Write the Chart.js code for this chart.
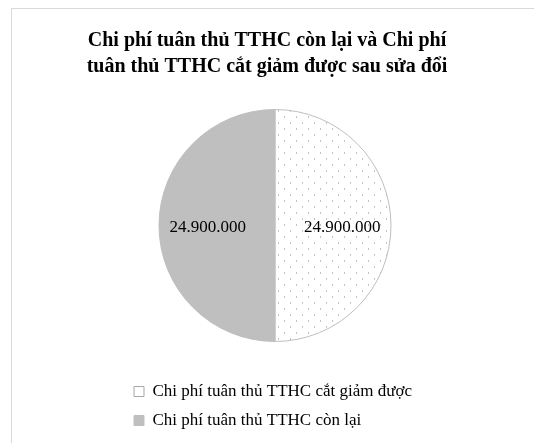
<!DOCTYPE html>
<html>
<head>
<meta charset="utf-8">
<script src="https://cdn.jsdelivr.net/npm/chart.js@4/dist/chart.umd.min.js"></script>
<style>
	html, body { margin: 0; padding: 0; background: #fff; }
</style>
</head>
<body>
<canvas id="costChart" width="534" height="443"></canvas>
<script>
// dữ liệu biểu đồ
const categories = ['Chi phí tuân thủ TTHC cắt giảm được', 'Chi phí tuân thủ TTHC còn lại'];
const values = [24900000, 24900000];
const titleLines = ['Chi phí tuân thủ TTHC còn lại và Chi phí', 'tuân thủ TTHC cắt giảm được sau sửa đổi'];

const SERIF = '"Liberation Serif", "Times New Roman", serif';

// số kiểu Việt Nam: 24.900.000
function fmt(v) {
	return String(v).replace(/\B(?=(\d{3})+(?!\d))/g, '.');
}

// nền chấm cho phần "cắt giảm được"
function dotPattern(ctx) {
	const c = document.createElement('canvas');
	c.width = 12; c.height = 12;
	const g = c.getContext('2d');
	g.fillStyle = '#fff';
	g.fillRect(0, 0, 12, 12);
	g.fillStyle = '#c4c4c4';
	g.fillRect(2, 2, 1, 2);
	g.fillRect(8, 8, 1, 2);
	return ctx.createPattern(c, 'repeat');
}

// khung viền, dịch chú giải và tâm hình tròn
const framePlugin = {
	id: 'frame',
	afterLayout(chart) {
		const w = chart.width;
		chart.titleBlock.left = 0;
		chart.titleBlock.right = w;
		chart.titleBlock.width = w;
		chart.legend.left = 122;
		chart.chartArea.left = 16;
		chart.chartArea.right = w;
		chart.chartArea.width = w - 16;
	},
	beforeDraw(chart) {
		const ctx = chart.ctx;
		ctx.save();
		ctx.fillStyle = '#fff';
		ctx.fillRect(0, 0, chart.width, chart.height);
		ctx.strokeStyle = '#d9d9d9';
		ctx.lineWidth = 1;
		ctx.strokeRect(11.5, 8.5, 700, 700);
		ctx.restore();
	}
};

// nhãn giá trị trên từng lát
const sliceLabels = {
	id: 'sliceLabels',
	afterDatasetsDraw(chart) {
		const ctx = chart.ctx;
		const meta = chart.getDatasetMeta(0);
		ctx.save();
		ctx.font = '17px ' + SERIF;
		ctx.fillStyle = '#000';
		ctx.textAlign = 'center';
		ctx.textBaseline = 'middle';
		meta.data.forEach((arc, i) => {
			const p = arc.getProps(['x', 'y', 'startAngle', 'endAngle', 'outerRadius'], true);
			const mid = (p.startAngle + p.endAngle) / 2;
			const r = p.outerRadius * 0.58;
			ctx.fillText(fmt(values[i]), p.x + Math.cos(mid) * r, p.y + Math.sin(mid) * r + 2);
		});
		ctx.restore();
	}
};

const canvasElement = document.getElementById('costChart');
const ctx = canvasElement.getContext('2d');

new Chart(ctx, {
	type: 'pie',
	data: {
		labels: categories,
		datasets: [{
			data: values,
			backgroundColor: [dotPattern(ctx), '#bfbfbf'],
			borderColor: ['#bfbfbf', '#bfbfbf'],
			borderWidth: 1,
			radius: 116
		}]
	},
	options: {
		responsive: false,
		devicePixelRatio: 1,
		animation: false,
		layout: { padding: { top: 10, bottom: 4, right: 40 } },
		plugins: {
			title: {
				display: true,
				text: titleLines,
				color: '#000',
				font: { family: SERIF, size: 20, weight: 'bold', lineHeight: 1.3 },
				padding: { top: 18, bottom: 0 }
			},
			legend: {
				position: 'bottom',
				align: 'start',
				labels: {
					color: '#000',
					font: { family: SERIF, size: 17 },
					boxWidth: 10,
					boxHeight: 10,
					padding: 12,
					generateLabels(chart) {
						const items = Chart.overrides.pie.plugins.legend.labels.generateLabels(chart);
						items[0].fillStyle = '#fff';
						items[0].strokeStyle = '#a6a6a6';
						items[1].strokeStyle = '#bfbfbf';
						return items;
					}
				}
			},
			tooltip: { enabled: false }
		}
	},
	plugins: [framePlugin, sliceLabels]
});
</script>
</body>
</html>
